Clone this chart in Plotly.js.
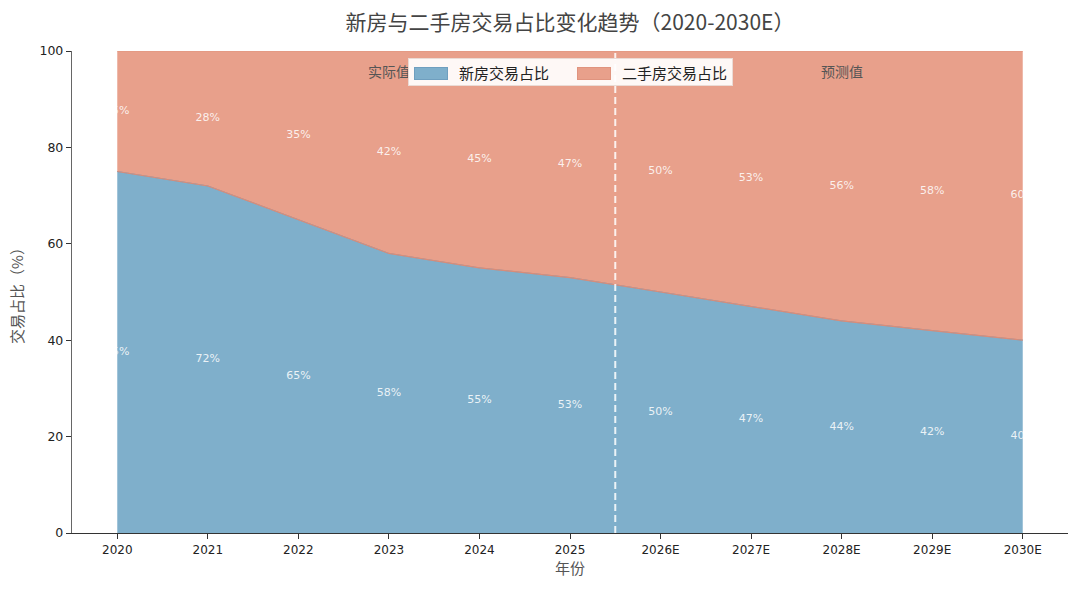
<!DOCTYPE html>
<html>
<head>
<meta charset="utf-8">
<script src="https://cdn.plot.ly/plotly-3.0.1.min.js"></script>
<style>html,body{margin:0;padding:0;background:#fff;}#chart{width:1080px;height:589px;}</style>
</head>
<body>
<div id="chart"></div>
<script>
const years = ["2020","2021","2022","2023","2024","2025","2026E","2027E","2028E","2029E","2030E"];
const newShare = [75,72,65,58,55,53,50,47,44,42,40];
const secondShare = [25,28,35,42,45,47,50,53,56,58,60];
const yTicks = [0,20,40,60,80,100];
const seriesNames = ["新房交易占比", "二手房交易占比"];

const CJK = "Noto Sans CJK SC, sans-serif";
const NUM = "DejaVu Sans, Noto Sans CJK SC, sans-serif";
const blue = "rgb(127,175,203)";
const red = "rgb(232,160,139)";

const idx = years.map((_, i) => i);
const newLabelY = newShare.map(v => v / 2);
const secondLabelY = newShare.map((v, i) => v + secondShare[i] / 2);

const traces = [
  {
    x: years, y: newShare, type: "scatter", mode: "lines", stackgroup: "one",
    name: seriesNames[0], fillcolor: blue, line: {color: "#6f9fbf", width: 1},
    hoverinfo: "skip", showlegend: false
  },
  {
    x: years, y: secondShare, type: "scatter", mode: "lines", stackgroup: "one",
    name: seriesNames[1], fillcolor: red, line: {color: "#e0947f", width: 1},
    hoverinfo: "skip", showlegend: false
  },
  {
    x: years, y: newShare, type: "scatter", mode: "lines", showlegend: false,
    line: {color: "#da8c78", width: 1.2}, hoverinfo: "skip"
  },
  {
    x: idx, y: newLabelY, xaxis: "x2", yaxis: "y2", type: "scatter", mode: "text",
    text: newShare.map(v => v + "%"), showlegend: false, cliponaxis: true,
    textfont: {family: NUM, size: 11, color: "rgba(255,255,255,0.85)"}, hoverinfo: "skip"
  },
  {
    x: idx, y: secondLabelY, xaxis: "x2", yaxis: "y2", type: "scatter", mode: "text",
    text: secondShare.map(v => v + "%"), showlegend: false, cliponaxis: true,
    textfont: {family: NUM, size: 11, color: "rgba(255,255,255,0.85)"}, hoverinfo: "skip"
  }
];

// paper-coordinate helpers (plot area: x 72..1068, y 51..533)
const L = 72, R = 1068, T = 51, B = 533;
const px = p => (p - L) / (R - L);
const py = p => (B - p) / (B - T);

const layout = {
  width: 1080, height: 589,
  margin: {l: L, r: 1080 - R, t: T, b: 589 - B},
  paper_bgcolor: "#fff", plot_bgcolor: "rgba(0,0,0,0)",
  font: {family: CJK, color: "#333"},
  showlegend: false,
  title: {
    text: "新房与二手房交易占比变化趋势（2020-2030E）",
    font: {family: CJK, size: 21, color: "#444"},
    x: 0.5, xref: "paper", y: 0.962, yanchor: "middle"
  },
  xaxis: {
    type: "category", categoryorder: "array", categoryarray: years,
    range: [-0.5, 10.5], showgrid: false, zeroline: false,
    showline: true, linecolor: "#333", linewidth: 1.2,
    ticks: "outside", ticklen: 5, tickcolor: "#333",
    tickfont: {family: NUM, size: 12, color: "#222"},
    title: {text: "年份", font: {family: CJK, size: 15, color: "#555"}, standoff: 5}
  },
  yaxis: {
    range: [0, 100], tickvals: yTicks, showgrid: false, zeroline: false,
    showline: true, linecolor: "#666", linewidth: 1.2,
    ticks: "outside", ticklen: 5, tickcolor: "#333",
    tickfont: {family: NUM, size: 12.5, color: "#222"},
    title: {text: "交易占比（%）", font: {family: CJK, size: 15, color: "#555"}, standoff: 12}
  },
  xaxis2: {
    domain: [0.5 / 11, 10.5 / 11], range: [0, 10], anchor: "y2",
    visible: false, showgrid: false, zeroline: false, fixedrange: true
  },
  yaxis2: {
    domain: [0, 1], range: [0, 100], anchor: "x2",
    visible: false, showgrid: false, zeroline: false, fixedrange: true
  },
  shapes: [{
    type: "line", xref: "x", yref: "y", x0: 5.5, x1: 5.5, y0: 0, y1: 100,
    line: {color: "rgba(255,255,255,0.85)", width: 2, dash: "7px,4px"}, layer: "above"
  }],
  annotations: [
    {x: 3, y: 95.8, xref: "x", yref: "y", text: "实际值", showarrow: false,
     font: {family: CJK, size: 14, color: "#555"}, xanchor: "center", yanchor: "middle"},
    {x: 8, y: 95.8, xref: "x", yref: "y", text: "预测值", showarrow: false,
     font: {family: CJK, size: 14, color: "#555"}, xanchor: "center", yanchor: "middle"},
    // legend box
    {x: px(408), y: py(58), xref: "paper", yref: "paper", xanchor: "left", yanchor: "top",
     text: " ", showarrow: false, width: 323, height: 26, borderpad: 0,
     bgcolor: "rgba(255,255,255,0.92)", bordercolor: "#eadbd5", borderwidth: 1},
    {x: px(414), y: py(67), xref: "paper", yref: "paper", xanchor: "left", yanchor: "top",
     text: " ", showarrow: false, width: 32, height: 11, borderpad: 0,
     bgcolor: blue, bordercolor: "#6f9fbf", borderwidth: 1, font: {size: 2}},
    {x: px(457), y: py(72.5), xref: "paper", yref: "paper", xanchor: "left", yanchor: "middle",
     text: seriesNames[0], showarrow: false, font: {family: CJK, size: 15, color: "#222"}},
    {x: px(577), y: py(67), xref: "paper", yref: "paper", xanchor: "left", yanchor: "top",
     text: " ", showarrow: false, width: 32, height: 11, borderpad: 0,
     bgcolor: red, bordercolor: "#e0947f", borderwidth: 1, font: {size: 2}},
    {x: px(620), y: py(72.5), xref: "paper", yref: "paper", xanchor: "left", yanchor: "middle",
     text: seriesNames[1], showarrow: false, font: {family: CJK, size: 15, color: "#222"}}
  ]
};

Plotly.newPlot("chart", traces, layout, {displayModeBar: false, staticPlot: true});
</script>
</body>
</html>
